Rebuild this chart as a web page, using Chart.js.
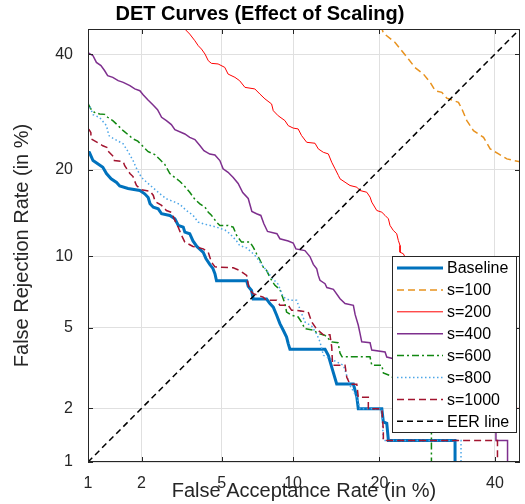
<!DOCTYPE html>
<html>
<head>
<meta charset="utf-8">
<script src="https://cdn.jsdelivr.net/npm/chart.js@4.4.1/dist/chart.umd.min.js"></script>
<style>
html,body{margin:0;padding:0;background:#fff;}
#wrap{width:525px;height:504px;}
</style>
</head>
<body>
<div id="wrap"><canvas id="c" width="525" height="504"></canvas></div>
<script>
// ---- data (FAR %, FRR %) ----
const tickValues = [1, 2, 5, 10, 20, 40];
const axisMin = 1, axisMax = 45;
const seriesNames = ['Baseline','s=100','s=200','s=400','s=600','s=800','s=1000','EER line'];

const baseline = [[1.0,22.6],[1.02,22.55],[1.07,21.35],[1.14,20.87],[1.22,20.38],[1.28,19.48],[1.36,18.75],[1.46,18.25],[1.52,17.79],[1.69,17.46],[1.96,17.19],[2.08,16.77],[2.17,16.31],[2.22,15.53],[2.31,15.12],[2.45,14.93],[2.55,14.35],[2.81,14.16],[2.98,13.78],[3.10,13.05],[3.28,12.87],[3.34,12.34],[3.53,12.18],[3.66,11.45],[3.82,10.92],[4.10,10.36],[4.22,9.82],[4.40,9.31],[4.55,8.97],[4.65,8.55],[4.73,8.0],[6.45,8.0],[6.55,7.58],[6.77,7.29],[6.88,6.7],[7.83,6.7],[8.08,6.41],[8.34,6.19],[8.61,5.70],[8.87,5.23],[9.15,4.88],[9.43,4.54],[9.57,4.23],[9.72,3.98],[13.16,3.98],[13.52,3.72],[13.90,3.26],[14.47,2.68],[16.49,2.68],[16.93,2.30],[17.12,1.99],[20.34,1.99],[20.56,1.69],[21.06,1.66],[21.3,1.33],[32.4,1.33],[32.4,0.9]];

const s100 = [[20.2,45.7],[20.57,44.18],[22.3,42.31],[23.33,40.67],[24.38,39.04],[25.43,37.41],[26.84,36.14],[27.98,34.57],[28.85,33.03],[30.02,32.72],[30.9,31.66],[33.03,30.9],[33.66,29.74],[34.59,27.72],[35.84,26.03],[37.77,24.94],[39.07,23.12],[40.71,22.35],[42.37,21.6],[45.4,21.1]];

const s200 = [[3.26,45.6],[3.34,44.99],[3.53,43.98],[3.74,42.64],[3.88,41.66],[4.02,41.0],[4.18,40.01],[4.33,38.71],[4.48,38.2],[4.81,38.08],[5.16,37.42],[5.34,36.14],[5.73,35.52],[6.01,34.89],[6.34,33.64],[6.99,33.35],[7.34,32.42],[7.71,31.53],[8.21,30.62],[8.34,29.43],[8.73,28.55],[9.29,27.72],[9.57,26.87],[10.01,26.46],[10.46,26.32],[10.78,25.23],[11.27,24.15],[12.10,24.0],[12.44,23.12],[12.98,22.59],[13.52,22.35],[13.90,21.1],[14.28,20.15],[14.67,19.21],[14.86,18.75],[15.46,18.29],[16.07,17.85],[16.93,17.63],[17.35,17.19],[18.24,16.97],[18.69,16.35],[18.92,15.73],[19.62,14.73],[20.34,14.53],[20.81,14.16],[21.3,13.78],[21.54,13.05],[22.04,12.51],[22.55,12.18],[22.80,11.5],[23.06,11.01],[23.06,10.38],[23.58,10.24],[23.85,9.93],[26.3,7.29],[29.6,4.88],[33.4,3.52],[37.1,2.64],[41.0,2.07],[43.4,2.0],[48,2.0]];

const s400 = [[1.0,40.27],[1.07,39.69],[1.12,38.38],[1.19,37.76],[1.25,36.77],[1.30,35.84],[1.39,35.52],[1.49,34.89],[1.59,34.57],[1.73,33.95],[1.84,33.35],[1.96,33.02],[2.04,32.30],[2.16,31.39],[2.31,30.40],[2.43,29.62],[2.55,28.29],[2.70,27.72],[2.86,27.05],[2.98,26.21],[3.34,25.49],[3.53,24.94],[3.74,24.58],[3.95,23.63],[4.13,22.85],[4.40,22.32],[4.65,22.20],[4.90,21.35],[5.07,20.15],[5.34,19.66],[5.63,18.93],[5.92,18.12],[6.20,16.94],[6.55,16.18],[6.79,14.61],[7.11,14.35],[7.41,14.16],[7.63,13.23],[7.90,12.41],[8.63,12.18],[8.87,11.67],[9.57,11.45],[10.01,11.25],[10.25,10.69],[11.10,10.53],[11.59,9.99],[11.93,9.31],[12.28,8.94],[12.44,8.41],[12.62,8.03],[13.16,7.78],[13.36,7.50],[14.09,7.37],[14.86,6.73],[15.46,6.41],[16.49,6.30],[16.71,5.75],[17.12,5.14],[17.35,4.71],[17.57,4.31],[18.69,4.27],[18.92,3.94],[20.81,3.86],[21.06,3.65],[22.07,3.58],[26.3,2.96],[31.5,2.35],[37.1,1.84],[40.2,1.55],[40.2,1.33],[42.5,1.33],[42.5,0.9]];

const s600 = [[1.0,30.7],[1.04,29.74],[1.09,29.14],[1.17,28.86],[1.25,28.79],[1.30,28.29],[1.39,27.72],[1.49,26.87],[1.59,26.03],[1.69,25.39],[1.80,24.69],[1.91,24.34],[2.04,23.48],[2.17,22.69],[2.35,22.25],[2.50,21.5],[2.65,20.77],[2.81,19.48],[2.98,18.93],[3.16,18.39],[3.34,17.72],[3.53,16.97],[3.74,16.06],[3.95,15.53],[4.18,15.12],[4.33,14.53],[4.48,14.18],[4.73,13.41],[4.90,13.05],[5.34,13.05],[5.63,12.87],[5.83,12.0],[6.13,11.34],[6.66,11.34],[6.88,10.85],[7.11,10.24],[7.34,9.71],[7.58,9.08],[7.83,8.80],[8.08,8.26],[8.47,7.66],[8.87,7.36],[9.29,6.41],[9.43,5.89],[9.87,5.70],[10.46,5.60],[10.78,5.30],[11.10,4.96],[11.93,4.88],[12.44,4.71],[13.16,4.62],[13.90,4.31],[14.62,4.27],[14.86,3.81],[15.1,3.66],[18.68,3.66],[18.92,3.33],[20.34,3.33],[20.56,3.05],[21.54,2.96],[23.6,2.64],[25.4,2.21],[27.1,1.84],[28.2,1.52],[28.2,0.9]];

const s800 = [[1.0,30.7],[1.02,30.3],[1.07,28.75],[1.17,28.23],[1.28,26.87],[1.32,25.23],[1.39,24.82],[1.59,23.9],[1.69,22.69],[1.80,21.35],[1.88,20.2],[2.00,18.93],[2.13,18.29],[2.26,17.72],[2.50,16.77],[2.70,16.14],[2.98,15.73],[3.16,15.45],[3.40,14.73],[3.66,14.18],[3.88,13.41],[4.10,13.23],[4.73,12.87],[5.17,12.56],[5.44,12.18],[5.83,11.45],[6.01,11.01],[6.45,10.77],[6.77,10.38],[7.11,9.93],[7.46,9.31],[7.83,8.80],[8.21,8.26],[8.73,7.73],[9.15,6.83],[9.72,6.62],[10.32,6.62],[10.78,5.80],[11.10,5.32],[11.77,5.09],[12.28,4.68],[12.62,4.31],[12.98,3.72],[15.26,3.33],[16.07,2.63],[16.93,2.29],[17.35,1.99],[20.34,1.99],[20.56,1.33],[33.5,1.33],[33.5,0.9]];

const s1000 = [[1.0,28.1],[1.0,26.5],[1.04,25.7],[1.04,24.7],[1.14,24.1],[1.22,23.6],[1.30,23.3],[1.30,22.85],[1.42,21.8],[1.42,21.35],[1.59,21.2],[1.62,20.6],[1.69,19.9],[1.73,19.5],[1.80,19.06],[1.84,18.4],[1.88,17.85],[2.00,17.3],[2.22,17.1],[2.31,16.56],[2.36,15.8],[2.55,15.33],[2.70,14.73],[2.86,14.53],[2.98,13.6],[3.10,12.84],[3.22,12.0],[3.34,11.34],[3.66,10.92],[4.10,10.69],[4.33,10.36],[4.48,9.51],[4.65,9.1],[5.63,9.02],[6.01,8.8],[6.45,8.41],[6.55,7.73],[6.66,7.34],[6.88,7.07],[7.58,6.83],[7.83,6.62],[8.61,6.62],[8.87,6.30],[9.57,6.30],[9.87,5.99],[10.32,5.99],[11.42,5.89],[11.77,5.32],[12.28,4.93],[12.98,4.65],[13.70,4.65],[13.90,4.08],[14.0,3.33],[15.46,3.33],[15.67,2.90],[16.07,2.67],[16.93,2.67],[17.12,2.29],[18.45,2.29],[18.45,1.99],[20.34,1.99],[20.56,1.52],[20.56,1.33],[40.5,1.33],[40.5,0.9]];

const eerLine = [[1,1],[45,45]];

// ---- normal deviate (probit) transform for DET axes ----
function probit(p){
  const a=[-3.969683028665376e+01,2.209460984245205e+02,-2.759285104469687e+02,1.383577518672690e+02,-3.066479806614716e+01,2.506628277459239e+00];
  const b=[-5.447609879822406e+01,1.615858368580409e+02,-1.556989798598866e+02,6.680131188771972e+01,-1.328068155288572e+01];
  const c=[-7.784894002430293e-03,-3.223964580411365e-01,-2.400758277161838e+00,-2.549671625446584e+00,4.374664141464968e+00,2.938163982698783e+00];
  const d=[7.784695709041462e-03,3.224671290700398e-01,2.445134137142996e+00,3.754408661907416e+00];
  const pl=0.02425, ph=1-pl; let q,r;
  if(p<pl){q=Math.sqrt(-2*Math.log(p));return (((((c[0]*q+c[1])*q+c[2])*q+c[3])*q+c[4])*q+c[5])/((((d[0]*q+d[1])*q+d[2])*q+d[3])*q+1);}
  if(p<=ph){q=p-0.5;r=q*q;return (((((a[0]*r+a[1])*r+a[2])*r+a[3])*r+a[4])*r+a[5])*q/(((((b[0]*r+b[1])*r+b[2])*r+b[3])*r+b[4])*r+1);}
  q=Math.sqrt(-2*Math.log(1-p));return -(((((c[0]*q+c[1])*q+c[2])*q+c[3])*q+c[4])*q+c[5])/((((d[0]*q+d[1])*q+d[2])*q+d[3])*q+1);
}
const pz = v => probit(v/100);
const toXY = arr => arr.map(([x,y]) => ({x: pz(x), y: pz(y)}));

const FONT = "'Liberation Sans', Arial, Helvetica, sans-serif";
const AXC = '#262626';

const styles = [
  {color:'#0072BD', width:3,   dash:[]},
  {color:'#E8921E', width:1.5, dash:[7,4]},
  {color:'#FF0000', width:1,   dash:[]},
  {color:'#7E2F8E', width:1.5, dash:[]},
  {color:'#118811', width:1.5, dash:[7,3,2,3]},
  {color:'#4DA6E8', width:1.5, dash:[1.5,2.5]},
  {color:'#A2142F', width:1.5, dash:[7,4]},
  {color:'#000000', width:1.5, dash:[6,4]}
];
const allSeries = [baseline, s100, s200, s400, s600, s800, s1000, eerLine];

const datasets = allSeries.map((s,i) => ({
  label: seriesNames[i],
  data: toXY(s),
  showLine: true,
  pointRadius: 0,
  borderColor: styles[i].color,
  backgroundColor: styles[i].color,
  borderWidth: styles[i].width,
  borderDash: styles[i].dash,
  borderCapStyle: 'butt',
  borderJoinStyle: 'miter',
  tension: 0,
  fill: false,
  order: allSeries.length - i
}));

const tickPos = tickValues.map(pz);

const frameAndLegend = {
  id: 'frameAndLegend',
  afterDraw(chart){
    const ctx = chart.ctx, a = chart.chartArea;
    const xs = chart.scales.x, ys = chart.scales.y;
    ctx.save();
    // inner tick marks
    ctx.strokeStyle = AXC; ctx.lineWidth = 1; ctx.setLineDash([]);
    ctx.beginPath();
    tickPos.forEach(v => {
      const px = Math.round(xs.getPixelForValue(v)) + 0.5;
      ctx.moveTo(px, a.bottom); ctx.lineTo(px, a.bottom - 5);
      ctx.moveTo(px, a.top); ctx.lineTo(px, a.top + 5);
      const py = Math.round(ys.getPixelForValue(v)) + 0.5;
      ctx.moveTo(a.left, py); ctx.lineTo(a.left + 5, py);
      ctx.moveTo(a.right, py); ctx.lineTo(a.right - 5, py);
    });
    ctx.stroke();
    // box
    ctx.strokeRect(Math.round(a.left)+0.5, Math.round(a.top)+0.5, Math.round(a.right - a.left)-1, Math.round(a.bottom - a.top)-1);
    // legend
    const x1 = Math.round(a.right) - 4, y1 = Math.round(a.bottom) - 30;
    const w = 124, h = 176;
    const x0 = x1 - w, y0 = y1 - h;
    ctx.fillStyle = '#ffffff';
    ctx.fillRect(x0, y0, w, h);
    ctx.strokeStyle = AXC; ctx.lineWidth = 1;
    ctx.strokeRect(x0 + 0.5, y0 + 0.5, w, h);
    ctx.font = '16px ' + FONT;
    ctx.textBaseline = 'middle'; ctx.textAlign = 'left';
    chart.data.datasets.forEach((ds, i) => {
      const yy = y0 + 12 + i * 21.9;
      ctx.beginPath();
      ctx.strokeStyle = ds.borderColor;
      ctx.lineWidth = ds.borderWidth;
      ctx.setLineDash(ds.borderDash);
      ctx.moveTo(x0 + 5, yy); ctx.lineTo(x0 + 51, yy);
      ctx.stroke();
      ctx.setLineDash([]);
      ctx.fillStyle = '#000';
      ctx.fillText(ds.label, x0 + 55, yy + 1);
    });
    ctx.restore();
  }
};

const commonTicks = {
  autoSkip: false, maxRotation: 0, minRotation: 0,
  color: AXC, font: {family: FONT, size: 16},
  callback: (v, i) => String(tickValues[i])
};

new Chart(document.getElementById('c'), {
  type: 'scatter',
  data: {datasets},
  options: {
    responsive: false, animation: false, devicePixelRatio: 1,
    layout: {padding: {left: 0, right: 5, top: 0, bottom: 0}},
    plugins: {
      legend: {display: false},
      tooltip: {enabled: false},
      title: {display: true, text: 'DET Curves (Effect of Scaling)', color: '#000',
        font: {family: FONT, size: 20, weight: 'bold', lineHeight: 1.2},
        padding: {top: 2, bottom: 3}}
    },
    scales: {
      x: {
        type: 'linear', min: pz(axisMin), max: pz(axisMax),
        afterBuildTicks: s => { s.ticks = tickPos.map(v => ({value: v})); },
        afterFit: s => { s.height = 42; },
        ticks: Object.assign({padding: 12}, commonTicks),
        grid: {color: '#e0e0e0', lineWidth: 1, drawTicks: false},
        border: {display: false},
        title: {display: true, text: 'False Acceptance Rate (in %)', color: AXC,
          font: {family: FONT, size: 20, lineHeight: 1.2}, padding: {top: 0, bottom: 1}}
      },
      y: {
        type: 'linear', min: pz(axisMin), max: pz(axisMax),
        afterBuildTicks: s => { s.ticks = tickPos.map(v => ({value: v})); },
        afterFit: s => { s.width = 88; },
        ticks: Object.assign({padding: 15}, commonTicks),
        grid: {color: '#e0e0e0', lineWidth: 1, drawTicks: false},
        border: {display: false},
        title: {display: true, text: 'False Rejection Rate (in %)', color: AXC,
          font: {family: FONT, size: 20, lineHeight: 1.2}, padding: {top: 10, bottom: 0}}
      }
    }
  },
  plugins: [frameAndLegend]
});
</script>
</body>
</html>
